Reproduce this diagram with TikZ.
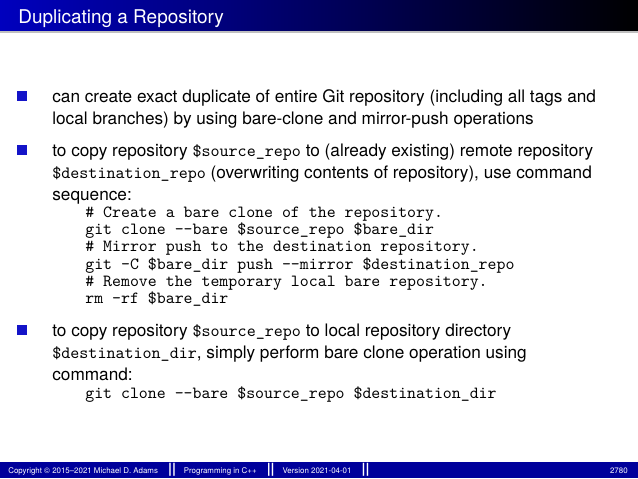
\documentclass[tikz,border=0pt]{standalone}
\usepackage{fontspec}
\setmainfont{TeX Gyre Heros}
\definecolor{bulblue}{RGB}{20,20,200}
\definecolor{titleblue}{RGB}{0,0,190}
\definecolor{footblue}{RGB}{0,0,155}
\begin{document}
\begin{tikzpicture}[x=0.5696pt,y=-0.5696pt,
  txt/.style={anchor=base west,inner sep=0pt,font=\fontsize{9.8}{12}\selectfont},
  code/.style={anchor=base west,inner sep=0pt,font=\ttfamily\fontsize{9.7}{11}\selectfont},
  foot/.style={anchor=base west,inner sep=0pt,text=white,font=\fontsize{4.5}{5}\selectfont},
  bul/.style={fill=bulblue,minimum size=5.5pt,inner sep=0pt}]
\useasboundingbox (0,0) rectangle (638,478);
\shade[left color=titleblue,right color=black] (0,0) rectangle (638,31);
\fill[black!25] (0,31) rectangle (638,33);
\node[anchor=base west,inner sep=0pt,text=white,font=\fontsize{10.8}{13}\selectfont] (title) at (18,23) {Duplicating a Repository};
\node[bul] (b1) at (22,96) {};
\node[txt] (l1) at (52,102) {can create exact duplicate of entire Git repository (including all tags and};
\node[txt] (l2) at (52,124) {local branches) by using bare-clone and mirror-push operations};
\node[bul] (b2) at (22,150) {};
\node[txt] (l3) at (52,156) {to copy repository \texttt{\$source\_repo} to (already existing) remote repository};
\node[txt] (l4) at (52,178) {\texttt{\$destination\_repo} (overwriting contents of repository), use command};
\node[txt] (l5) at (52,200) {sequence:};
\node[code] (c1) at (85,217) {\# Create a bare clone of the repository.};
\node[code] (c2) at (85,234) {git clone --bare \$source\_repo \$bare\_dir};
\node[code] (c3) at (85,251) {\# Mirror push to the destination repository.};
\node[code] (c4) at (85,269) {git -C \$bare\_dir push --mirror \$destination\_repo};
\node[code] (c5) at (85,286) {\# Remove the temporary local bare repository.};
\node[code] (c6) at (85,303) {rm -rf \$bare\_dir};
\node[bul] (b3) at (22,330) {};
\node[txt] (l6) at (52,336) {to copy repository \texttt{\$source\_repo} to local repository directory};
\node[txt] (l7) at (52,358) {\texttt{\$destination\_dir}, simply perform bare clone operation using};
\node[txt] (l8) at (52,380) {command:};
\node[code] (c7) at (85,398) {git clone --bare \$source\_repo \$destination\_dir};
\fill[footblue] (0,462) rectangle (638,478);
\node[foot] (f1) at (8,473) {Copyright \textcopyright\ 2015--2021 Michael D. Adams \quad{\bfseries\fontsize{8}{8}\selectfont||}\quad Programming in C++ \quad{\bfseries\fontsize{8}{8}\selectfont||}\quad Version 2021-04-01 \quad{\bfseries\fontsize{8}{8}\selectfont||}};
\node[foot,anchor=base east] (f2) at (628,473) {2780};
\end{tikzpicture}
\end{document}
